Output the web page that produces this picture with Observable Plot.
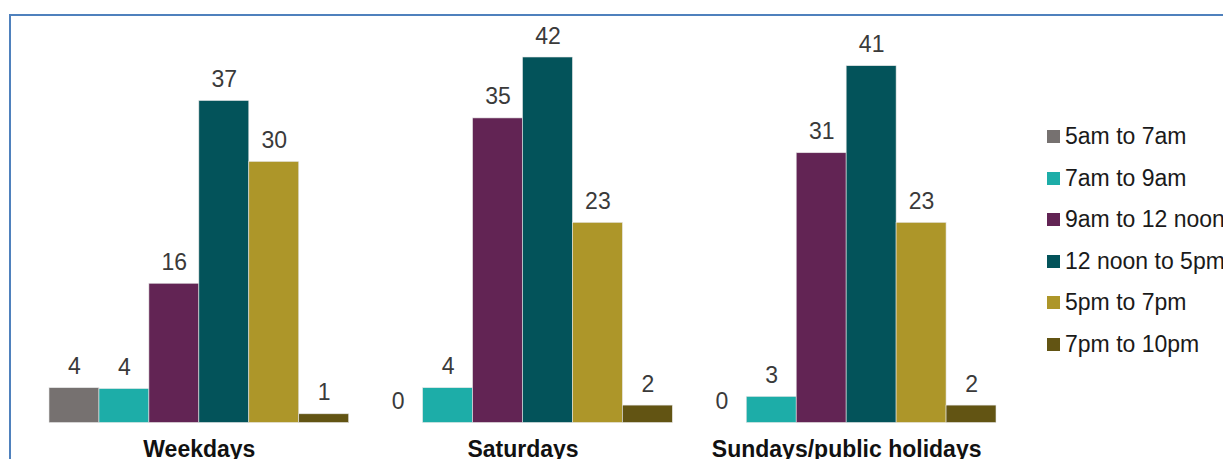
<!DOCTYPE html>
<html>
<head>
<meta charset="utf-8">
<script src="https://cdn.jsdelivr.net/npm/d3@7"></script>
<script src="https://cdn.jsdelivr.net/npm/@observablehq/plot@0.6"></script>
<style>
  html, body { margin: 0; padding: 0; background: #fff; width: 1223px; height: 459px; overflow: hidden; position: relative; }
  #frame { position: absolute; left: 9px; top: 14px; width: 1400px; height: 600px; border-top: 2px solid #4F81BD; border-left: 2px solid #4F81BD; box-sizing: border-box; }
  #chart { position: absolute; left: 0; top: 0; }
  #legend { position: absolute; left: 1047px; top: 116px; font-family: Arial, "Liberation Sans", sans-serif; font-size: 23px; color: #1a1a1a; white-space: nowrap; }
  .row { height: 41.5px; display: flex; align-items: center; }
  .sw { width: 13px; height: 13px; margin-right: 5px; flex: none; }
</style>
</head>
<body>
<div id="frame"></div>
<div id="chart"></div>
<div id="legend"></div>
<script>
const groups = ["Weekdays", "Saturdays", "Sundays/public holidays"];
const periods = ["5am to 7am", "7am to 9am", "9am to 12 noon", "12 noon to 5pm", "5pm to 7pm", "7pm to 10pm"];
const weekdays = [4.0, 3.9, 16, 37, 30, 1];
const saturdays = [0, 4, 35, 42, 23, 2];
const sundays = [0, 3, 31, 41, 23, 2];
const colors = ["#767170", "#1DADA8", "#622454", "#03535A", "#AD9629", "#625413"];

const series = [weekdays, saturdays, sundays];
const data = groups.flatMap((g, i) => periods.map((p, j) => ({group: g, period: p, value: series[i][j]})));

const chart = Plot.plot({
  width: 1223,
  height: 459,
  marginTop: 57,
  marginBottom: 36.5,
  marginLeft: 49,
  marginRight: 227,
  fx: {domain: groups, paddingInner: 24 / 324, paddingOuter: 0, round: false, label: null},
  x: {domain: periods, padding: 0, round: false, axis: null},
  y: {domain: [0, 42], axis: null},
  color: {domain: periods, range: colors},
  style: {fontFamily: "Arial, 'Liberation Sans', sans-serif", fontSize: "23px", background: "transparent", overflow: "visible"},
  marks: [
    Plot.barY(data, {fx: "group", x: "period", y: "value", fill: "period", stroke: "#e6e6e6", strokeWidth: 0.6}),
    Plot.text(data, {fx: "group", x: "period", y: "value", text: d => String(Math.round(d.value)), lineAnchor: "bottom", dy: -14, fill: "#3a3a3a", fontSize: 23}),
    Plot.axisFx({anchor: "bottom", tickSize: 0, tickPadding: 18, fontSize: 23, fontWeight: "bold", fill: "#111", label: null})
  ]
});
document.getElementById("chart").appendChild(chart);

const legend = d3.select("#legend");
periods.forEach((p, i) => {
  const row = legend.append("div").attr("class", "row");
  row.append("div").attr("class", "sw").style("background", colors[i]);
  row.append("span").text(p);
});
</script>
</body>
</html>
